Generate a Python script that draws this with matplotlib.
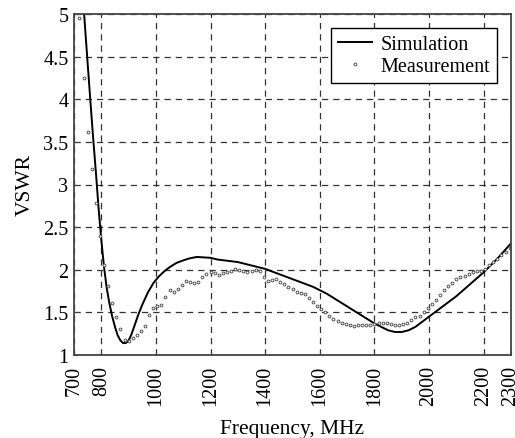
import matplotlib
matplotlib.use("Agg")
import matplotlib.pyplot as plt

sim_freq = [730, 737, 750, 760, 770, 780, 790, 800, 810, 820, 830, 840, 850, 860, 870,
            880, 890, 900, 910, 920, 935, 950, 970, 990, 1010, 1030, 1050, 1075, 1100,
            1125, 1150, 1175, 1200, 1225, 1250, 1275, 1300, 1325, 1350, 1375, 1400, 1425,
            1450, 1475, 1500, 1525, 1550, 1575, 1600, 1625, 1650, 1675, 1700, 1725, 1750,
            1775, 1800, 1825, 1850, 1875, 1900, 1925, 1950, 1975, 2000, 2025, 2050, 2075,
            2100, 2125, 2150, 2175, 2200, 2225, 2250, 2275, 2300]
sim_vswr = [5.30, 5.00, 4.42, 3.98, 3.55, 3.15, 2.72, 2.35, 2.03, 1.78, 1.60, 1.45, 1.33, 1.23, 1.17,
            1.14, 1.14, 1.17, 1.24, 1.33, 1.47, 1.59, 1.73, 1.84, 1.92, 1.98, 2.03, 2.08, 2.11,
            2.135, 2.15, 2.145, 2.14, 2.12, 2.11, 2.10, 2.09, 2.07, 2.05, 2.03, 2.01, 1.98,
            1.95, 1.92, 1.89, 1.86, 1.83, 1.80, 1.76, 1.72, 1.67, 1.62, 1.57, 1.52, 1.47,
            1.42, 1.37, 1.33, 1.29, 1.27, 1.27, 1.29, 1.33, 1.39, 1.45, 1.51, 1.57, 1.63,
            1.69, 1.76, 1.83, 1.90, 1.97, 2.05, 2.13, 2.22, 2.31]

meas_freq = [720, 735, 750, 765, 780, 795, 810, 825, 840, 855, 870, 885, 900, 915, 930, 945,
             960, 975, 990, 1005, 1020, 1035, 1050, 1065, 1080, 1095, 1110, 1125, 1140, 1155,
             1170, 1185, 1200, 1215, 1230, 1245, 1260, 1275, 1290, 1305, 1320, 1335, 1350,
             1365, 1380, 1395, 1410, 1425, 1440, 1455, 1470, 1485, 1500, 1515, 1530, 1545,
             1560, 1575, 1590, 1605, 1620, 1635, 1650, 1665, 1680, 1695, 1710, 1725, 1740,
             1755, 1770, 1785, 1800, 1815, 1830, 1845, 1860, 1875, 1890, 1905, 1920, 1935,
             1950, 1965, 1980, 1995, 2010, 2025, 2040, 2055, 2070, 2085, 2100, 2115, 2130,
             2145, 2160, 2175, 2190, 2205, 2220, 2235, 2250, 2265, 2280, 2295]
meas_vswr = [4.95, 4.25, 3.62, 3.18, 2.78, 2.40, 2.05, 1.81, 1.61, 1.45, 1.30, 1.18, 1.16, 1.20,
             1.23, 1.28, 1.34, 1.47, 1.55, 1.57, 1.59, 1.68, 1.76, 1.74, 1.78, 1.82, 1.87, 1.86,
             1.84, 1.86, 1.91, 1.95, 1.97, 1.96, 1.94, 1.96, 1.97, 1.99, 2.01, 2.00, 1.98, 1.97,
             1.98, 2.00, 1.99, 1.92, 1.87, 1.88, 1.89, 1.86, 1.83, 1.80, 1.77, 1.74, 1.73, 1.71,
             1.67, 1.62, 1.58, 1.54, 1.50, 1.46, 1.42, 1.40, 1.38, 1.36, 1.35, 1.345, 1.35,
             1.35, 1.35, 1.35, 1.36, 1.37, 1.375, 1.37, 1.36, 1.35, 1.35, 1.36, 1.38, 1.41,
             1.44, 1.46, 1.50, 1.55, 1.60, 1.65, 1.70, 1.76, 1.81, 1.85, 1.89, 1.91, 1.93,
             1.95, 1.97, 1.98, 1.99, 2.01, 2.05, 2.09, 2.13, 2.17, 2.21, 2.26]

xticks = [700, 800, 1000, 1200, 1400, 1600, 1800, 2000, 2200, 2300]
yticks = [1, 1.5, 2, 2.5, 3, 3.5, 4, 4.5, 5]
ytick_labels = ["1", "1.5", "2", "2.5", "3", "3.5", "4", "4.5", "5"]

plt.rcParams['font.family'] = ['Liberation Serif', 'DejaVu Serif']

fig = plt.figure(figsize=(5.15, 4.39), dpi=100)
ax = fig.add_axes([74/515, 1-356/439, (511-74)/515, (356-15)/439])

ax.plot(sim_freq, sim_vswr, color='black', lw=1.4, label='Simulation')
ax.plot(meas_freq, meas_vswr, linestyle='none', marker='o', markersize=2.0,
        markerfacecolor='white', markeredgecolor='#555555', markeredgewidth=0.7,
        label='Measurement')

ax.set_xlim(700, 2300)
ax.set_ylim(1, 5)
ax.set_xticks(xticks)
ax.set_xticklabels([str(t) for t in xticks], rotation=90)
ax.set_yticks(yticks)
ax.set_yticklabels(ytick_labels)
ax.tick_params(axis='both', direction='in', length=3, labelsize=14.5, color='#444444', pad=4)
ax.tick_params(axis='x', pad=7)
ax.grid(True, color='#333333', linestyle=(0, (5, 4)), linewidth=0.9)
for s in ax.spines.values():
    s.set_color('#444444')
    s.set_linewidth(1.3)

ax.set_xlabel('Frequency, MHz', fontsize=15.5, labelpad=10)
ax.set_ylabel('VSWR', fontsize=15.5, labelpad=6)

leg = ax.legend(loc='upper right', bbox_to_anchor=(0.968, 0.959), fontsize=14.5,
                frameon=True, fancybox=False, edgecolor='black', framealpha=1,
                handlelength=1.7, handletextpad=0.4, borderpad=0.35, labelspacing=0.12,
                borderaxespad=0.0)
leg.get_frame().set_linewidth(1.0)

fig.savefig('out.png', dpi=100)
